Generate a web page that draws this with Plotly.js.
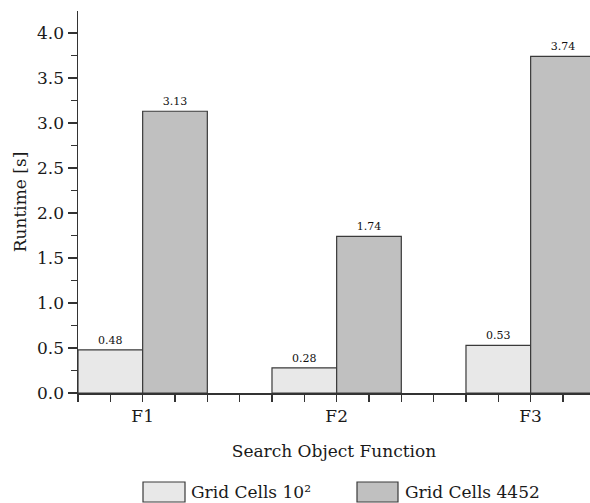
<!DOCTYPE html>
<html><head><meta charset="utf-8">
<script src="https://cdn.plot.ly/plotly-3.0.1.min.js"></script>
<style>html,body{margin:0;padding:0;background:#fff}#chart{width:590px;height:503px}</style>
</head><body><div id="chart"></div>
<script>
const categories = ['F1', 'F2', 'F3'];
const seriesNames = ['Grid Cells 10²', 'Grid Cells 4452'];
const smallGrid = [0.48, 0.28, 0.53];
const largeGrid = [3.13, 1.74, 3.74];
const yTickVals = [0, 0.5, 1, 1.5, 2, 2.5, 3, 3.5, 4];

const FONT = 'DejaVu Serif, serif';
const FS = 17;
const xIdx = categories.map((c, i) => i);
const colors = ['#e8e8e8', '#c0c0c0'];

function barTrace(vals, name, color) {
  return {
    type: 'bar', x: xIdx, y: vals, name: name,
    marker: {color: color, line: {color: '#3a3a3a', width: 1.2}},
    text: vals.map(v => v.toFixed(2)), textposition: 'outside',
    textfont: {family: FONT, size: 11, color: '#111'},
    cliponaxis: false, showlegend: false
  };
}

const data = [
  barTrace(smallGrid, seriesNames[0], colors[0]),
  barTrace(largeGrid, seriesNames[1], colors[1])
];

const layout = {
  width: 590, height: 503,
  margin: {l: 78, r: 0, t: 11, b: 110},
  paper_bgcolor: '#fff', plot_bgcolor: '#fff',
  barmode: 'group', bargap: 1/3, bargroupgap: 0,
  font: {family: FONT, size: FS, color: '#1a1a1a'},
  xaxis: {
    type: 'linear', range: [-1/3, 2.306],
    tickvals: xIdx, ticktext: categories,
    ticks: 'outside', ticklen: 7, tickwidth: 1.3, tickcolor: '#333',
    minor: {dtick: 1/6, tick0: 0, ticks: 'outside', ticklen: 7, tickwidth: 1.3, tickcolor: '#333', showgrid: false},
    showline: true, linecolor: '#333', linewidth: 1.5,
    showgrid: false, zeroline: false,
    tickfont: {family: FONT, size: FS, color: '#1a1a1a'},
    title: {text: 'Search Object Function', font: {family: FONT, size: FS, color: '#1a1a1a'}, standoff: 20}
  },
  yaxis: {
    range: [0, 4.244],
    tickvals: yTickVals, tickformat: '.1f',
    ticks: 'outside', ticklen: 9, tickwidth: 1.3, tickcolor: '#333',
    minor: {dtick: 0.25, tick0: 0, ticks: 'outside', ticklen: 6, tickwidth: 1.3, tickcolor: '#333', showgrid: false},
    showline: true, linecolor: '#333', linewidth: 1.5,
    showgrid: false, zeroline: false,
    tickfont: {family: FONT, size: FS, color: '#1a1a1a'},
    title: {text: 'Runtime [s]', font: {family: FONT, size: FS, color: '#1a1a1a'}, standoff: 6}
  },
  shapes: [
    {type: 'rect', xref: 'paper', yref: 'paper', x0: (143-78)/512, x1: (185-78)/512, y0: -(482-393)/382, y1: -(502-393)/382,
     fillcolor: colors[0], line: {color: '#3a3a3a', width: 1.2}},
    {type: 'rect', xref: 'paper', yref: 'paper', x0: (357-78)/512, x1: (398-78)/512, y0: -(482-393)/382, y1: -(502-393)/382,
     fillcolor: colors[1], line: {color: '#3a3a3a', width: 1.2}}
  ],
  annotations: [
    {xref: 'paper', yref: 'paper', x: (189-78)/512, y: -(492-393)/382, xanchor: 'left', yanchor: 'middle',
     text: seriesNames[0], showarrow: false, font: {family: FONT, size: FS, color: '#1a1a1a'}},
    {xref: 'paper', yref: 'paper', x: (403-78)/512, y: -(492-393)/382, xanchor: 'left', yanchor: 'middle',
     text: seriesNames[1], showarrow: false, font: {family: FONT, size: FS, color: '#1a1a1a'}}
  ]
};

Plotly.newPlot('chart', data, layout, {displayModeBar: false, staticPlot: true});
</script></body></html>
